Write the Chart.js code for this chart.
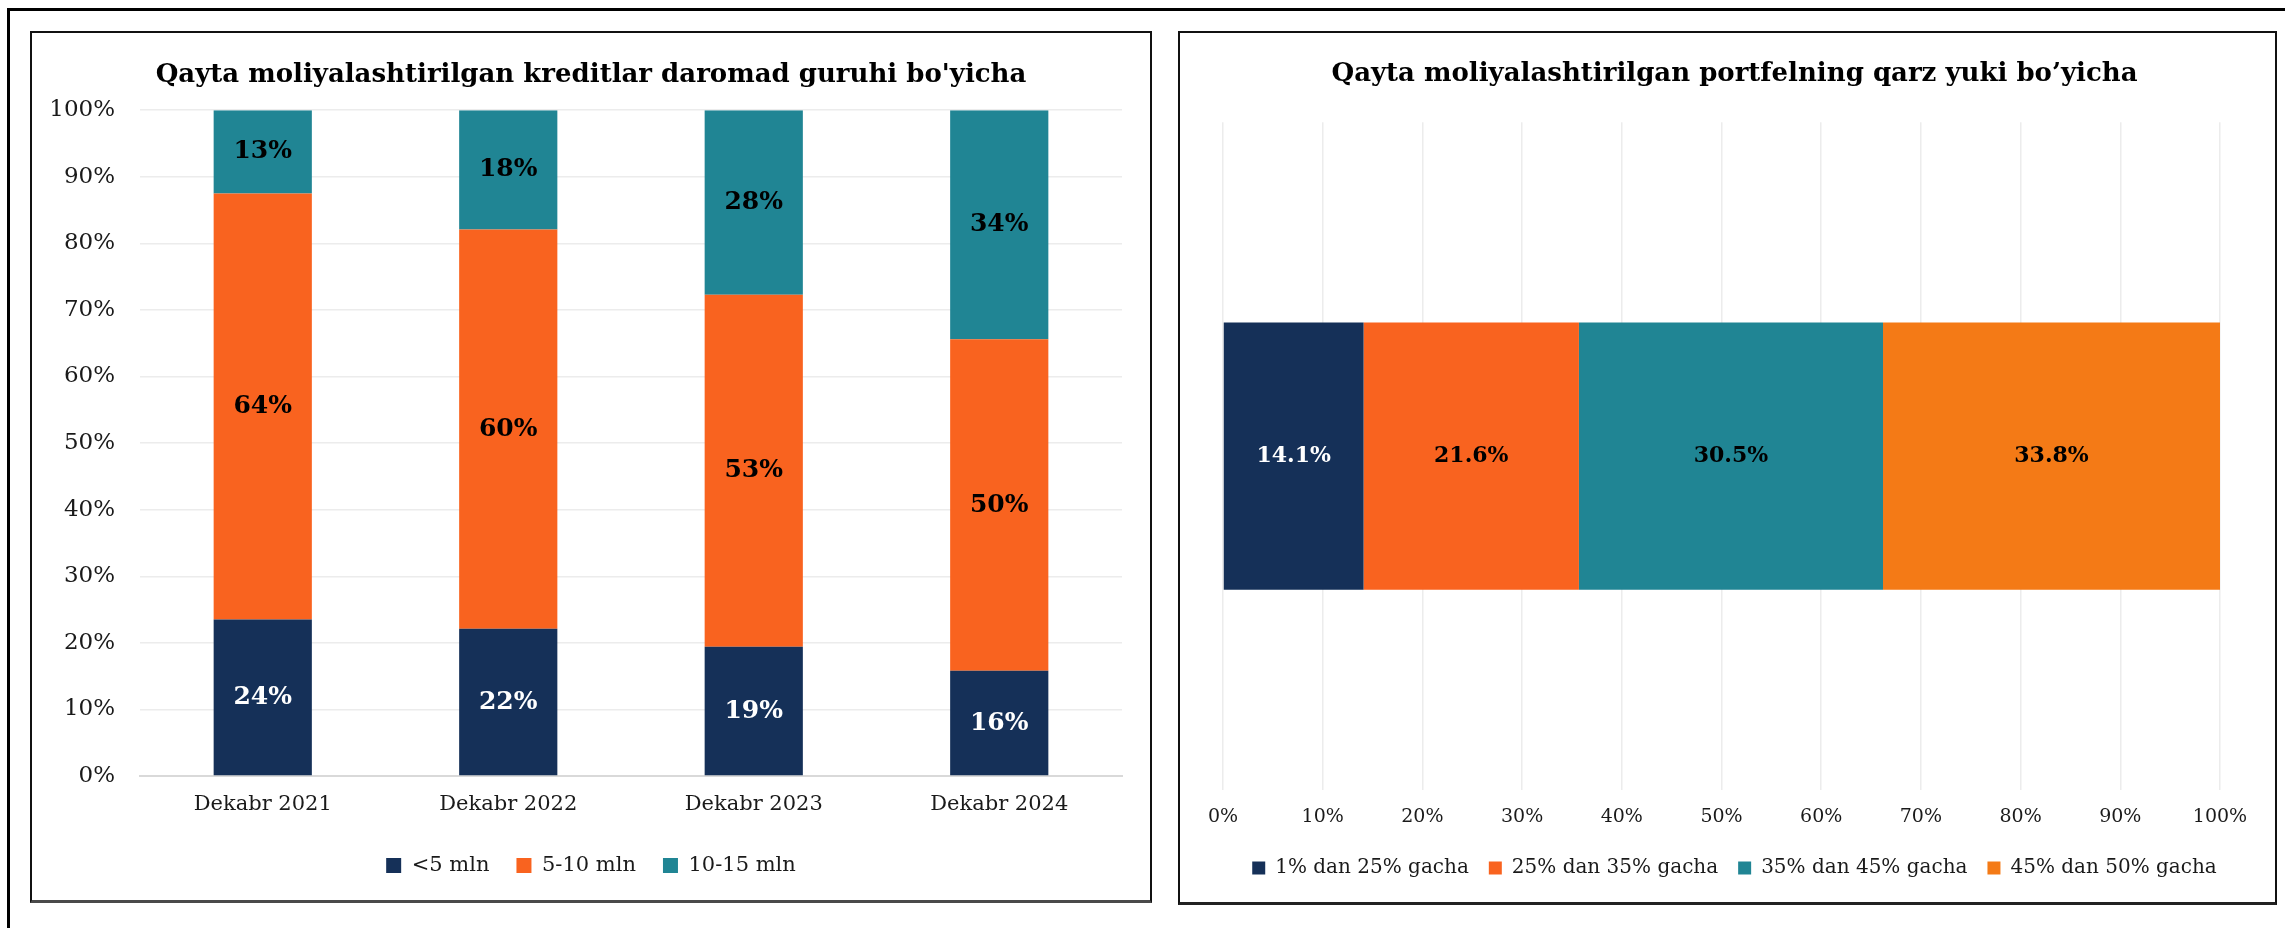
<!DOCTYPE html>
<html>
<head>
<meta charset="utf-8">
<script src="https://cdn.jsdelivr.net/npm/chart.js@4/dist/chart.umd.min.js"></script>
<style>
  body { margin: 0; background: #fff; width: 2285px; height: 928px; overflow: hidden; position: relative; }
  .frame { position: absolute; left: 7px; top: 8px; width: 2400px; height: 1000px; border-top: 3px solid #000; border-left: 3px solid #000; }
  .panel { position: absolute; background: #fff; box-sizing: border-box; }
  #leftPanel { left: 30px; top: 31px; width: 1122px; height: 872px; border: 2px solid #111; border-bottom: 3px solid #4a4a4a; }
  #rightPanel { left: 1178px; top: 31px; width: 1099px; height: 874px; border: 2px solid #111; border-bottom: 3px solid #222; }
  canvas { display: block; }
</style>
</head>
<body>
<div class="frame"></div>
<div class="panel" id="leftPanel"><div style="width:1118px;height:867px"><canvas id="incomeChart"></canvas></div></div>
<div class="panel" id="rightPanel"><div style="width:1095px;height:869px"><canvas id="burdenChart"></canvas></div></div>
<script>
// left chart: refinanced loans by income group (share, %)
const years = ['Dekabr 2021', 'Dekabr 2022', 'Dekabr 2023', 'Dekabr 2024'];
const under5 = [23.5, 22.1, 19.4, 15.8];
const from5to10 = [64.0, 60.0, 52.9, 49.8];
const from10to15 = [12.5, 17.9, 27.7, 34.4];

// right chart: refinanced portfolio by debt burden (share, %)
const burdenGroups = ['1% dan 25% gacha', '25% dan 35% gacha', '35% dan 45% gacha', '45% dan 50% gacha'];
const burdenShares = [14.1, 21.6, 30.5, 33.8];

const NAVY = '#153058';
const ORANGE = '#f9631f';
const TEAL = '#208594';
const ORANGE2 = '#f47a16';
const FONT = "'DejaVu Serif', 'Liberation Serif', serif";
const TEXT = '#1a1a1a';

// writes each segment's value in the middle of the bar
const barLabels = {
    id: 'barLabels',
    afterDatasetsDraw(chart, args, opts) {
        const ctx = chart.ctx;
        chart.data.datasets.forEach((ds, i) => {
            const meta = chart.getDatasetMeta(i);
            meta.data.forEach((bar, j) => {
                const c = bar.getCenterPoint();
                ctx.save();
                ctx.fillStyle = ds.labelColor;
                ctx.font = 'bold ' + opts.size + 'px ' + FONT;
                ctx.textAlign = 'center';
                ctx.textBaseline = 'middle';
                ctx.fillText(opts.format(ds.data[j]), c.x, c.y);
                ctx.restore();
            });
        });
    }
};

// empty axis used only to reserve a fixed margin beside the plot
const spacer = (pos, w) => ({
    position: pos,
    display: true,
    grid: { display: false, drawTicks: false },
    border: { display: false },
    ticks: { display: false },
    afterFit: s => { s.width = w; }
});

Chart.defaults.font.family = FONT;
Chart.defaults.color = TEXT;
Chart.defaults.animation = false;

new Chart(document.getElementById('incomeChart'), {
    type: 'bar',
    data: {
        labels: years,
        datasets: [
            { label: '<5 mln', data: under5, backgroundColor: NAVY, labelColor: '#fff' },
            { label: '5-10 mln', data: from5to10, backgroundColor: ORANGE, labelColor: '#000' },
            { label: '10-15 mln', data: from10to15, backgroundColor: TEAL, labelColor: '#000' }
        ]
    },
    options: {
        responsive: true,
        maintainAspectRatio: false,
        barPercentage: 0.4,
        categoryPercentage: 1,
        layout: { padding: { left: 0, right: 0, top: 0, bottom: 14 } },
        plugins: {
            title: {
                display: true,
                text: "Qayta moliyalashtirilgan kreditlar daromad guruhi bo'yicha",
                color: '#000',
                font: { size: 26, weight: 'bold' },
                padding: { top: 27, bottom: 19 }
            },
            legend: {
                position: 'bottom',
                labels: { boxWidth: 15, boxHeight: 15, padding: 27, font: { size: 21 }, color: TEXT }
            },
            tooltip: { enabled: false },
            barLabels: { size: 25, format: v => Math.round(v) + '%' }
        },
        scales: {
            x: {
                stacked: true,
                grid: { display: false, drawTicks: false },
                border: { display: true, color: '#d9d9d9', width: 2 },
                ticks: { font: { size: 21 }, padding: 16, color: TEXT },
                afterFit: s => { s.height = 52; }
            },
            y: {
                stacked: true,
                min: 0,
                max: 100,
                grid: { color: '#ececec', lineWidth: 1.5, drawTicks: false },
                border: { display: false },
                ticks: { stepSize: 10, font: { size: 23 }, padding: 25, color: TEXT, callback: v => v + '%' },
                afterFit: s => { s.width = 108; }
            },
            yRight: Object.assign(spacer('right', 28), { type: 'linear' })
        }
    },
    plugins: [barLabels]
});

new Chart(document.getElementById('burdenChart'), {
    type: 'bar',
    data: {
        labels: [''],
        datasets: burdenGroups.map((g, i) => ({
            label: g,
            data: [burdenShares[i]],
            backgroundColor: [NAVY, ORANGE, TEAL, ORANGE2][i],
            labelColor: i === 0 ? '#fff' : '#000'
        }))
    },
    options: {
        indexAxis: 'y',
        responsive: true,
        maintainAspectRatio: false,
        barPercentage: 0.4,
        categoryPercentage: 1,
        layout: { padding: { left: 14, right: 0, top: 0, bottom: 14 } },
        plugins: {
            title: {
                display: true,
                text: 'Qayta moliyalashtirilgan portfelning qarz yuki bo\u2019yicha',
                color: '#000',
                font: { size: 26, weight: 'bold' },
                padding: { top: 26, bottom: 32 }
            },
            legend: {
                position: 'bottom',
                labels: { boxWidth: 13, boxHeight: 13, padding: 20, font: { size: 20 }, color: TEXT }
            },
            tooltip: { enabled: false },
            barLabels: { size: 22, format: v => v.toFixed(1) + '%' }
        },
        scales: {
            x: {
                stacked: true,
                min: 0,
                max: 100,
                grid: { color: '#ececec', lineWidth: 1.5, drawTicks: false },
                border: { display: false },
                ticks: { stepSize: 10, font: { size: 19 }, padding: 16, color: TEXT, callback: v => v + '%' },
                afterFit: s => { s.height = 48; }
            },
            y: Object.assign(spacer('left', 29), { stacked: true }),
            yRight: Object.assign(spacer('right', 55), { type: 'linear' })
        }
    },
    plugins: [barLabels]
});
</script>
</body>
</html>
